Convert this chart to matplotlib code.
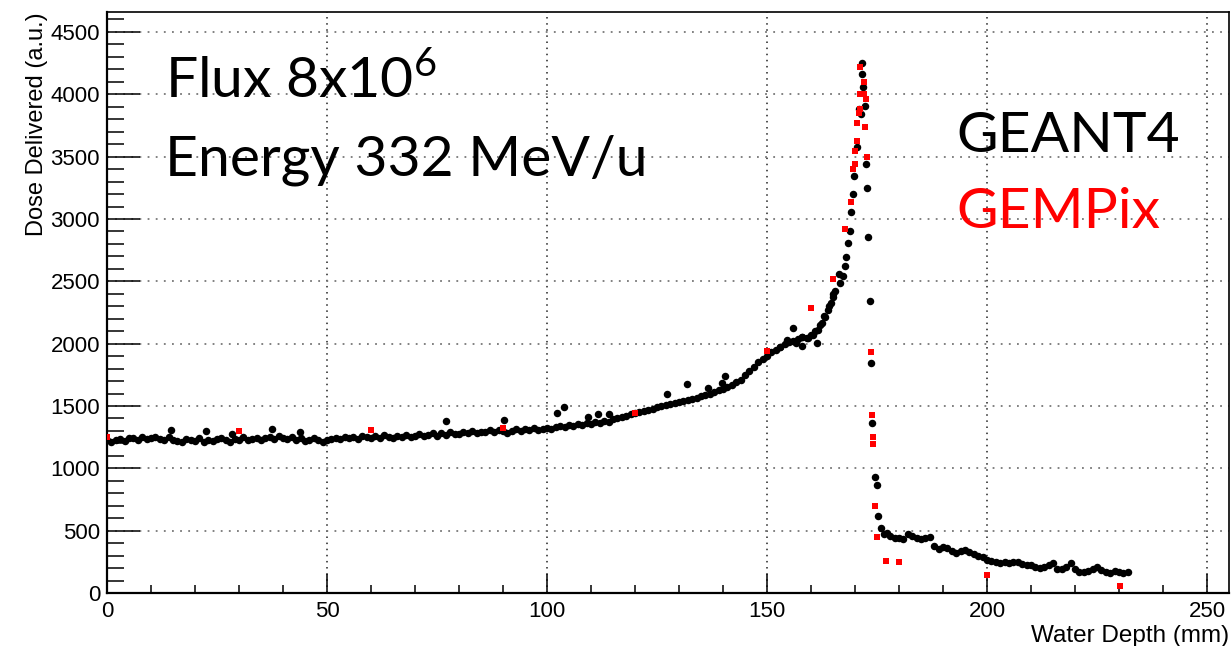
"""Bragg peak depth-dose comparison: GEANT4 simulation vs GEMPix measurement."""

from __future__ import annotations

from pathlib import Path

import matplotlib

matplotlib.use("Agg")
import matplotlib.pyplot as plt
import numpy as np
from matplotlib.ticker import MultipleLocator

# GEANT4 simulated dose, plateau and rise (1 mm steps, 0-165 mm)
rise_depth = np.arange(0, 166, 1)
rise_dose = [
    1225, 1215, 1230, 1238, 1222, 1240, 1245, 1228, 1250, 1235,
    1242, 1255, 1238, 1225, 1248, 1230, 1218, 1212, 1235, 1228,
    1222, 1240, 1215, 1230, 1218, 1236, 1245, 1225, 1212, 1238,
    1230, 1250, 1224, 1238, 1246, 1228, 1240, 1255, 1232, 1262,
    1245, 1236, 1250, 1228, 1242, 1218, 1230, 1240, 1225, 1212,
    1228, 1238, 1245, 1232, 1250, 1240, 1255, 1236, 1262, 1248,
    1242, 1258, 1245, 1265, 1250, 1240, 1262, 1248, 1270, 1255,
    1262, 1275, 1258, 1268, 1280, 1262, 1285, 1270, 1290, 1275,
    1278, 1292, 1285, 1300, 1282, 1295, 1288, 1305, 1292, 1310,
    1298, 1285, 1302, 1312, 1300, 1315, 1305, 1322, 1310, 1318,
    1325, 1315, 1332, 1340, 1328, 1345, 1338, 1352, 1345, 1360,
    1358, 1370, 1365, 1382, 1375, 1395, 1402, 1410, 1420, 1432,
    1440, 1450, 1462, 1470, 1478, 1490, 1498, 1508, 1515, 1522,
    1530, 1540, 1545, 1555, 1565, 1580, 1588, 1600, 1612, 1625,
    1640, 1655, 1672, 1690, 1712, 1745, 1780, 1815, 1850, 1880,
    1905, 1930, 1950, 1975, 2000, 2010, 2025, 2040, 2055, 2045,
    2070, 2100, 2150, 2220, 2300, 2400,
]

# GEANT4 points around the Bragg peak
peak_depth = [
    153.0, 154.5, 156.0, 156.7, 157.9, 157.9, 159.4, 160.5, 161.3, 161.7,
    162.4, 163.2, 163.9, 164.5, 165.1, 165.5, 166.3, 166.6, 167.2, 167.7,
    168.0, 168.5, 168.9, 169.0, 169.5, 169.8, 170.4, 171.0, 171.4, 171.5,
    171.7, 171.9, 172.3, 172.5, 172.8, 173.0, 173.4, 173.6, 173.9, 174.6,
    174.9, 175.2, 175.8, 176.5, 177.2,
]
peak_dose = [
    1975, 2029, 2123, 2002, 2055, 1981, 2042, 2069, 2002, 2109,
    2163, 2216, 2269, 2323, 2371, 2424, 2558, 2483, 2542, 2622,
    2692, 2804, 2906, 3053, 3197, 3344, 3581, 3879, 3841, 4248,
    4162, 4055, 3905, 3440, 3250, 2852, 2345, 1842, 1361, 933,
    866, 620, 524, 470, 479,
]

# GEANT4 distal tail (1 mm steps, 178-232 mm)
tail_depth = np.arange(178, 233, 1)
tail_dose = [
    455, 440, 445, 430, 470, 455, 440, 430, 445, 450,
    380, 355, 370, 365, 340, 320, 335, 345, 330, 310,
    300, 290, 268, 255, 245, 240, 248, 242, 250, 252,
    235, 228, 222, 210, 200, 212, 228, 238, 195, 190,
    205, 240, 195, 172, 168, 180, 195, 210, 185, 170,
    160, 175, 165, 160, 165,
]

# isolated GEANT4 points above the band
outlier_depth = [14.5, 22.6, 28.4, 37.4, 43.9, 77.0, 90.2, 102.2, 103.9, 109.4,
                 111.7, 114.2, 127.2, 131.8, 136.7, 139.7, 140.5]
outlier_dose = [1307, 1300, 1275, 1318, 1293, 1377, 1388, 1441, 1489, 1409,
                1435, 1438, 1593, 1674, 1641, 1682, 1737]

# GEMPix measurements
gempix_depth = [0, 30, 60, 90, 120, 150, 160, 165, 167.7, 169, 169.5, 170, 170,
                170.4, 170.5, 171, 171.1, 171.1, 171.1, 172, 172, 172.3, 172.5,
                172.7, 173.7, 173.9, 174, 174, 174.5, 175, 177, 180, 200, 230.2]
gempix_dose = [1255, 1300, 1307, 1323, 1443, 1940, 2288, 2518, 2919, 3135, 3403,
               3440, 3545, 3627, 3772, 3852, 3879, 4000, 4221, 4000, 4101, 3734,
               3959, 3497, 1936, 1425, 1248, 1195, 700, 447, 254, 246, 142, 54]

x_limits = (0, 255)
y_limits = (0, 4660)


def plot_depth_dose(output_path: str | Path) -> Path:
    """Draw the depth-dose curves in a ROOT-like frame."""
    figure = plt.figure(figsize=(12.31, 6.46), dpi=100)
    axis = figure.add_axes([0.0869, 0.082, 0.9115, 0.8994])

    geant_depth = np.concatenate([rise_depth, peak_depth, tail_depth, outlier_depth])
    geant_dose = np.concatenate([rise_dose, peak_dose, tail_dose, outlier_dose])
    axis.plot(geant_depth, geant_dose, linestyle="none", marker="o",
              markersize=5.4, markeredgewidth=0, color="black", zorder=3)
    axis.plot(gempix_depth, gempix_dose, linestyle="none", marker="s",
              markersize=4.6, markeredgewidth=0, color="#ff0000", zorder=4)

    axis.set_xlim(*x_limits)
    axis.set_ylim(*y_limits)
    axis.xaxis.set_major_locator(MultipleLocator(50))
    axis.xaxis.set_minor_locator(MultipleLocator(10))
    axis.yaxis.set_major_locator(MultipleLocator(500))
    axis.yaxis.set_minor_locator(MultipleLocator(100))

    axis.grid(axis="x", which="major", color="#222222", linestyle=(0, (1, 3)), linewidth=1.1)
    axis.grid(axis="y", which="major", color="#777777", linestyle=(0, (1, 3.5)), linewidth=1.3)
    axis.set_axisbelow(True)

    axis.tick_params(axis="both", which="both", direction="in", color="black",
                     width=1.1, top=False, right=False)
    axis.tick_params(axis="y", which="major", length=24, pad=5)
    axis.tick_params(axis="y", which="minor", length=12)
    axis.tick_params(axis="x", which="major", length=13.5, pad=6)
    axis.tick_params(axis="x", which="minor", length=6)
    for label in axis.get_xticklabels() + axis.get_yticklabels():
        label.set_fontfamily("Liberation Sans")
        label.set_fontsize(16)

    for side in ("left", "bottom"):
        axis.spines[side].set_linewidth(1.6)
    for side in ("top", "right"):
        axis.spines[side].set_linewidth(1.2)

    axis.set_xlabel("Water Depth (mm)", fontfamily="Liberation Sans", fontsize=17.5)
    axis.xaxis.set_label_coords(1.0, -0.055)
    axis.xaxis.label.set_horizontalalignment("right")
    axis.set_ylabel("Dose Delivered (a.u.)", fontfamily="Liberation Sans", fontsize=17)
    axis.yaxis.set_label_coords(-0.072, 1.0)
    axis.yaxis.label.set_verticalalignment("top")
    axis.yaxis.label.set_horizontalalignment("right")

    note_font = {"family": "Lato", "size": 41}
    figure.text(0.134, 0.848, "Flux 8x10$^{\\mathregular{6}}$", va="baseline", **note_font)
    figure.text(0.134, 0.729, "Energy 332 MeV/u", va="baseline", **note_font)
    figure.text(0.777, 0.765, "GEANT4", va="baseline", color="black", **note_font)
    figure.text(0.777, 0.647, "GEMPix", va="baseline", color="#ff0000", **note_font)

    destination = Path(output_path)
    figure.savefig(destination, dpi=100)
    plt.close(figure)
    return destination


if __name__ == "__main__":
    plot_depth_dose("out.png")
